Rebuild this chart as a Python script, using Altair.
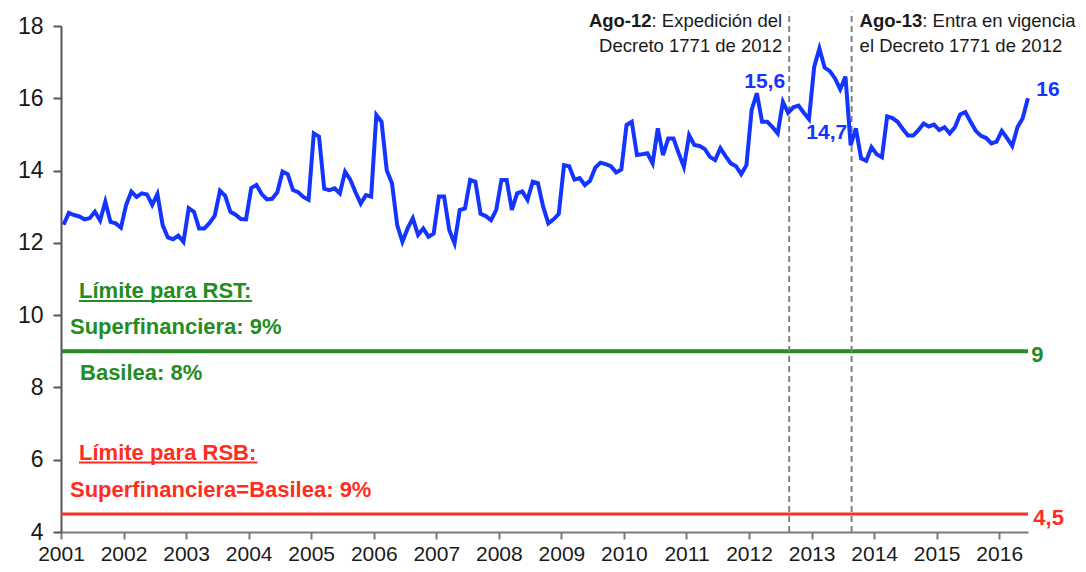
import altair as alt
import pandas as pd

# ---------------- data ----------------
YEARS = list(range(2001, 2017))
MONTHS = [f"{y}-{m:02d}" for y in YEARS for m in range(1, 13)][:186]

V2001 = [12.50, 12.83, 12.77, 12.73, 12.65, 12.68, 12.86, 12.62, 13.14, 12.58, 12.54, 12.42]
V2002 = [13.05, 13.42, 13.27, 13.37, 13.34, 13.05, 13.35, 12.49, 12.15, 12.10, 12.20, 12.03]
V2003 = [12.96, 12.86, 12.40, 12.40, 12.55, 12.75, 13.44, 13.30, 12.86, 12.78, 12.66, 12.65]
V2004 = [13.52, 13.60, 13.35, 13.20, 13.22, 13.40, 13.97, 13.90, 13.46, 13.40, 13.27, 13.19]
V2005 = [15.03, 14.94, 13.50, 13.46, 13.51, 13.37, 13.97, 13.75, 13.40, 13.09, 13.32, 13.28]
V2006 = [15.54, 15.35, 14.00, 13.65, 12.49, 12.03, 12.40, 12.68, 12.22, 12.40, 12.17, 12.26]
V2007 = [13.28, 13.28, 12.35, 11.99, 12.91, 12.95, 13.74, 13.69, 12.80, 12.74, 12.63, 12.91]
V2008 = [13.74, 13.74, 12.91, 13.37, 13.42, 13.19, 13.69, 13.65, 13.00, 12.54, 12.65, 12.80]
V2009 = [14.15, 14.12, 13.75, 13.79, 13.60, 13.72, 14.08, 14.22, 14.18, 14.12, 13.95, 14.03]
V2010 = [15.26, 15.35, 14.43, 14.45, 14.48, 14.20, 15.17, 14.43, 14.89, 14.89, 14.48, 14.10]
V2011 = [14.98, 14.71, 14.68, 14.60, 14.38, 14.29, 14.62, 14.40, 14.20, 14.12, 13.90, 14.15]
V2012 = [15.68, 16.14, 15.35, 15.35, 15.20, 15.03, 15.90, 15.60, 15.75, 15.80, 15.60, 15.42]
V2013 = [16.87, 17.38, 16.85, 16.75, 16.55, 16.25, 16.60, 14.70, 15.17, 14.34, 14.27, 14.65]
V2014 = [14.45, 14.37, 15.50, 15.45, 15.35, 15.15, 14.97, 14.97, 15.12, 15.30, 15.22, 15.27]
V2015 = [15.12, 15.20, 15.03, 15.20, 15.55, 15.62, 15.35, 15.10, 14.96, 14.90, 14.75, 14.80]
V2016 = [15.10, 14.90, 14.68, 15.20, 15.45, 16.00]
VALUES = (V2001 + V2002 + V2003 + V2004 + V2005 + V2006 + V2007 + V2008 +
          V2009 + V2010 + V2011 + V2012 + V2013 + V2014 + V2015 + V2016)

RST_LIMIT = 9
RSB_LIMIT = 4.5
EVENT_DATES = [2012.642, 2013.640]          # 23-ago-2012, ago-2013
Y_TICKS = [4, 6, 8, 10, 12, 14, 16, 18]

# ---------------- style ----------------
FONT = "Liberation Sans"
BLUE = "#1434ff"
GREEN = "#238c23"
RED = "#ff2d1e"
GRAY = "#7a7a7a"
X_DOMAIN = [2001, 2016.46]
Y_DOMAIN = [4, 18]

def month_pos(s):
    y, m = s.split("-")
    return int(y) + (int(m) - 0.5) / 12

df = pd.DataFrame({"mes": MONTHS, "t": [month_pos(m) for m in MONTHS], "v": VALUES})

xs = alt.Scale(domain=X_DOMAIN, nice=False, zero=False)
ys = alt.Scale(domain=Y_DOMAIN, nice=False, zero=False)

x_axis = alt.Axis(values=YEARS, format="d", grid=False, domainColor=GRAY, domainWidth=2,
                  tickColor=GRAY, tickWidth=2, tickSize=7, labelFont=FONT, labelFontSize=21,
                  labelColor="#1a1a1a", labelPadding=4, labelFlush=False, labelOverlap=False)
y_axis = alt.Axis(values=Y_TICKS, grid=False, domainColor="#555", domainWidth=2,
                  tickColor="#555", tickWidth=2, tickSize=8, labelFont=FONT, labelFontSize=23,
                  labelColor="#1a1a1a", labelPadding=10)

def X(field="t"):
    return alt.X(f"{field}:Q", scale=xs, title=None)

def Y(field="v"):
    return alt.Y(f"{field}:Q", scale=ys, title=None)

line = alt.Chart(df).mark_line(color=BLUE, strokeWidth=4, clip=False).encode(
    x=alt.X("t:Q", scale=xs, axis=x_axis, title=None),
    y=alt.Y("v:Q", scale=ys, axis=y_axis, title=None),
)

rst = alt.Chart(pd.DataFrame({"v": [RST_LIMIT]})).mark_rule(color=GREEN, strokeWidth=4).encode(y=Y())
rsb = alt.Chart(pd.DataFrame({"v": [RSB_LIMIT]})).mark_rule(color=RED, strokeWidth=3).encode(y=Y())

ev = pd.DataFrame({"t": EVENT_DATES, "v": [4, 4], "top": [18.4, 18.4]})
events = alt.Chart(ev).mark_rule(color="#808080", strokeWidth=2, strokeDash=[6, 4]).encode(
    x=X(), y=Y(), y2="top:Q")


def text(t, x, y, color, size, bold=True, align="left", baseline="alphabetic", dx=0):
    d = pd.DataFrame({"t": [x], "v": [y], "txt": [t]})
    return alt.Chart(d).mark_text(
        font=FONT, fontSize=size, fontWeight="bold" if bold else "normal", color=color,
        align=align, baseline=baseline, dx=dx).encode(x=X(), y=Y(), text="txt:N")


def underline(x1, x2, y, color):
    d = pd.DataFrame({"t": [x1], "t2": [x2], "v": [y]})
    return alt.Chart(d).mark_rule(color=color, strokeWidth=2).encode(x=X(), x2="t2:Q", y=Y())


ANN_SIZE = 18.5
layers = [
    rst, rsb, events, line,
    # green block
    text("Límite para RST:", 2001.288, 10.474, GREEN, 22),
    underline(2001.288, 2004.055, 10.39, GREEN),
    text("Superfinanciera: 9%", 2001.144, 9.49, GREEN, 22),
    text("Basilea: 8%", 2001.304, 8.206, GREEN, 22),
    # red block
    text("Límite para RSB:", 2001.288, 5.993, RED, 22),
    underline(2001.288, 2004.14, 5.92, RED),
    text("Superfinanciera=Basilea: 9%", 2001.144, 4.96, RED, 22),
    # end values
    text("9", 2016.513, 8.897, GREEN, 22, baseline="middle"),
    text("4,5", 2016.545, 4.387, RED, 22, baseline="middle"),
    text("16", 2016.593, 16.229, BLUE, 21, baseline="middle"),
    text("15,6", 2012.25, 16.464, BLUE, 21, align="center", baseline="middle"),
    text("14,7", 2013.242, 15.04, BLUE, 21, align="center", baseline="middle"),
    # event annotations
    text(": Expedición del", EVENT_DATES[0], 17.983, "#1a1a1a", ANN_SIZE, bold=False, align="right", dx=-7),
    text("Ago-12", EVENT_DATES[0], 17.983, "#1a1a1a", ANN_SIZE, align="right", dx=-7 - 7.059 * ANN_SIZE),
    text("Decreto 1771 de 2012", EVENT_DATES[0], 17.292, "#1a1a1a", ANN_SIZE, bold=False, align="right", dx=-7),
    text("Ago-13", EVENT_DATES[1], 17.983, "#1a1a1a", ANN_SIZE, dx=8),
    text(": Entra en vigencia", EVENT_DATES[1], 17.983, "#1a1a1a", ANN_SIZE, bold=False, dx=8 + 3.389 * ANN_SIZE),
    text("el Decreto 1771 de 2012", EVENT_DATES[1], 17.292, "#1a1a1a", ANN_SIZE, bold=False, dx=8),
]

chart = alt.layer(*layers).properties(
    width=967, height=506,
    padding={"left": 53, "top": 18, "right": 50, "bottom": 36},
    autosize=alt.AutoSizeParams(type="none"),
    background="white",
).configure_view(stroke=None)

chart.save("out.html", embed_options={"renderer": "svg", "actions": False})
